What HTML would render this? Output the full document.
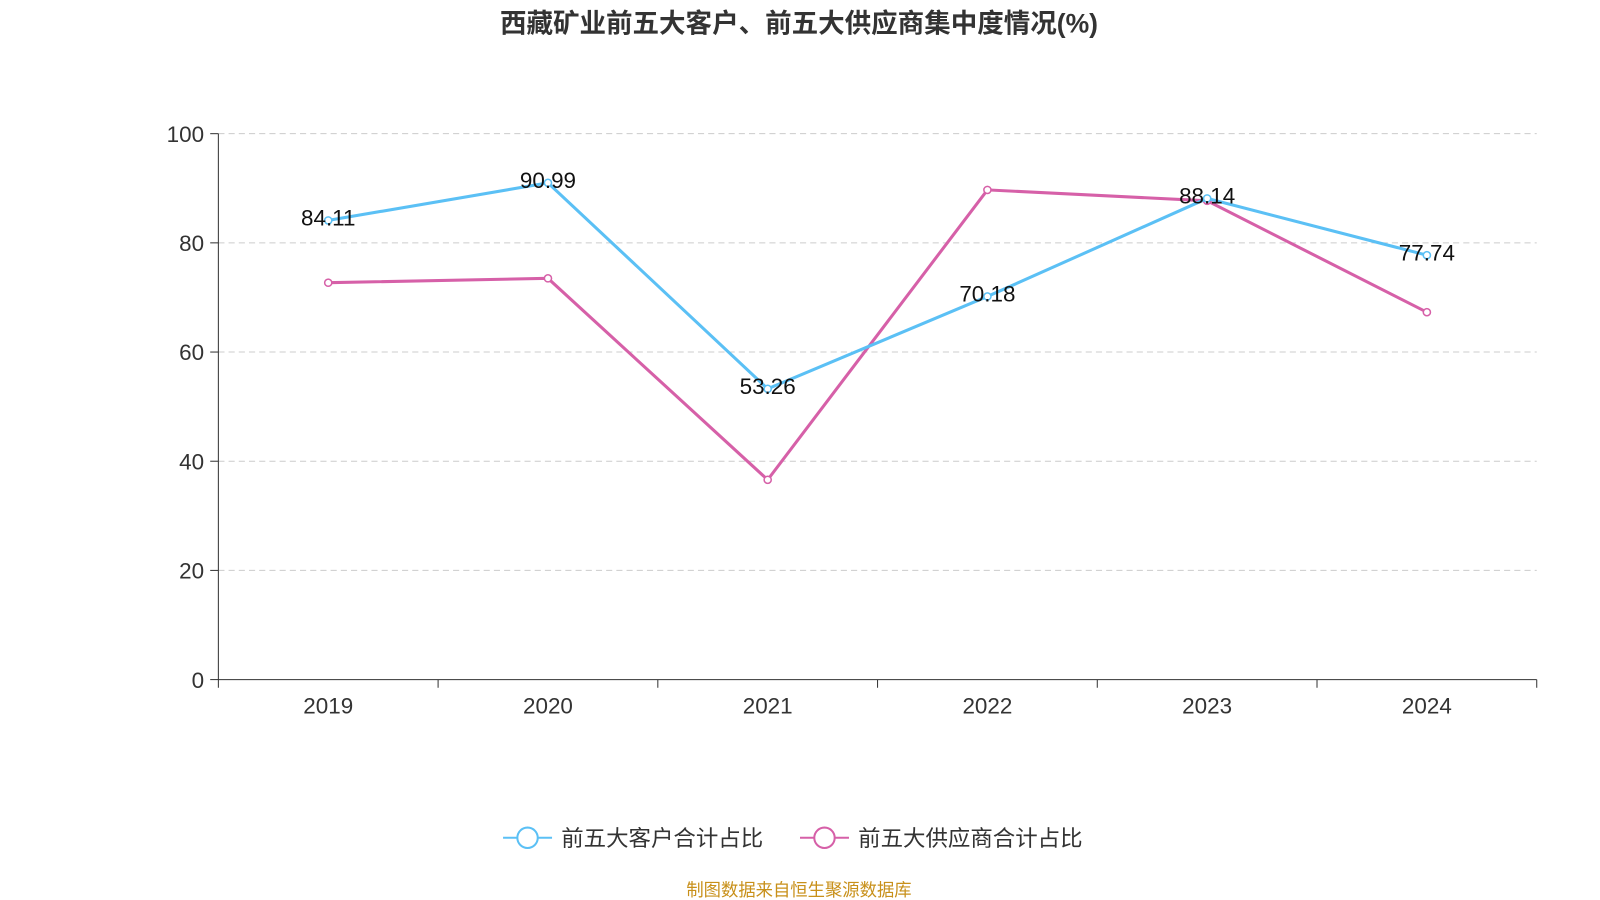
<!DOCTYPE html>
<html><head><meta charset="utf-8">
<style>
body{margin:0;background:#fff;}
svg{display:block;font-family:"Liberation Sans","Noto Sans CJK SC",sans-serif;}
</style></head>
<body>
<svg id="chart" width="1600" height="900" viewBox="0 0 1568 882">
<text x="783" y="32" text-anchor="middle" font-size="26" font-weight="bold" fill="#333">西藏矿业前五大客户、前五大供应商集中度情况(%)</text>
<g id="grid"></g><g id="axes"></g><g id="series"></g>
<g>
<g>
<line x1="493" y1="821" x2="541" y2="821" stroke="#5bc0f5" stroke-width="2"/>
<circle cx="517" cy="821" r="10" fill="#fff" stroke="#5bc0f5" stroke-width="2"/>
<text x="550" y="829" font-size="22" fill="#333">前五大客户合计占比</text></g>
<g>
<line x1="784" y1="821" x2="832" y2="821" stroke="#d660a8" stroke-width="2"/>
<circle cx="808" cy="821" r="10" fill="#fff" stroke="#d660a8" stroke-width="2"/>
<text x="841" y="829" font-size="22" fill="#333">前五大供应商合计占比</text></g>
</g>
<text x="783" y="878" text-anchor="middle" font-size="17" fill="#c8901a">制图数据来自恒生聚源数据库</text>
</svg>
<script>
const categories=["2019","2020","2021","2022","2023","2024"];
const customers=[84.11,90.99,53.26,70.18,88.14,77.74];
const suppliers=[72.7,73.5,36.6,89.7,87.7,67.3];
const yTicks=[0,20,40,60,80,100];
const NS="http://www.w3.org/2000/svg";
const x0=214,x1=1506,y0=666,y1=131;
const band=(x1-x0)/categories.length;
const xs=i=>x0+band*(i+0.5);
const ys=v=>y0-(v/100)*(y0-y1);
function mk(t,a,p){const e=document.createElementNS(NS,t);for(const k in a)e.setAttribute(k,a[k]);p.appendChild(e);return e;}
const grid=document.getElementById('grid'),axes=document.getElementById('axes'),ser=document.getElementById('series');
yTicks.forEach(v=>{
 if(v>0){const l=mk('line',{x1:x0,x2:x1,y1:ys(v),y2:ys(v),stroke:'#ccc','stroke-dasharray':'6,4'},grid);
 
 }
 mk('line',{x1:x0-8,x2:x0,y1:ys(v),y2:ys(v),stroke:'#333'},axes);
 const t=mk('text',{x:x0-14,y:ys(v)+8,'text-anchor':'end','font-size':22,fill:'#333'},axes);t.textContent=v;
 
 
});
mk('line',{x1:x0,x2:x0,y1:y1,y2:y0,stroke:'#333'},axes);
mk('line',{x1:x0,x2:x1,y1:y0,y2:y0,stroke:'#333'},axes);
for(let i=0;i<=categories.length;i++)mk('line',{x1:x0+band*i,x2:x0+band*i,y1:y0,y2:y0+8,stroke:'#333'},axes);
categories.forEach((c,i)=>{const t=mk('text',{x:xs(i),y:699,'text-anchor':'middle','font-size':22,fill:'#333'},axes);t.textContent=c;
 
 });
function draw(vals,color,name,labels){
 const p=mk('polyline',{points:vals.map((v,i)=>xs(i)+','+ys(v)).join(' '),fill:'none',stroke:color,'stroke-width':3},ser);
 
 
 vals.forEach((v,i)=>{const c=mk('circle',{cx:xs(i),cy:ys(v),r:3.5,fill:'#fff',stroke:color,'stroke-width':1.5},ser);
  
  
  if(labels){const t=mk('text',{x:xs(i),y:ys(v)+5,'text-anchor':'middle','font-size':22,fill:'#111'},ser);t.textContent=v.toFixed(2);
  
  }
 });
}
draw(suppliers,'#d660a8','suppliers',false);
draw(customers,'#5bc0f5','customers',true);
</script>
</body></html>
